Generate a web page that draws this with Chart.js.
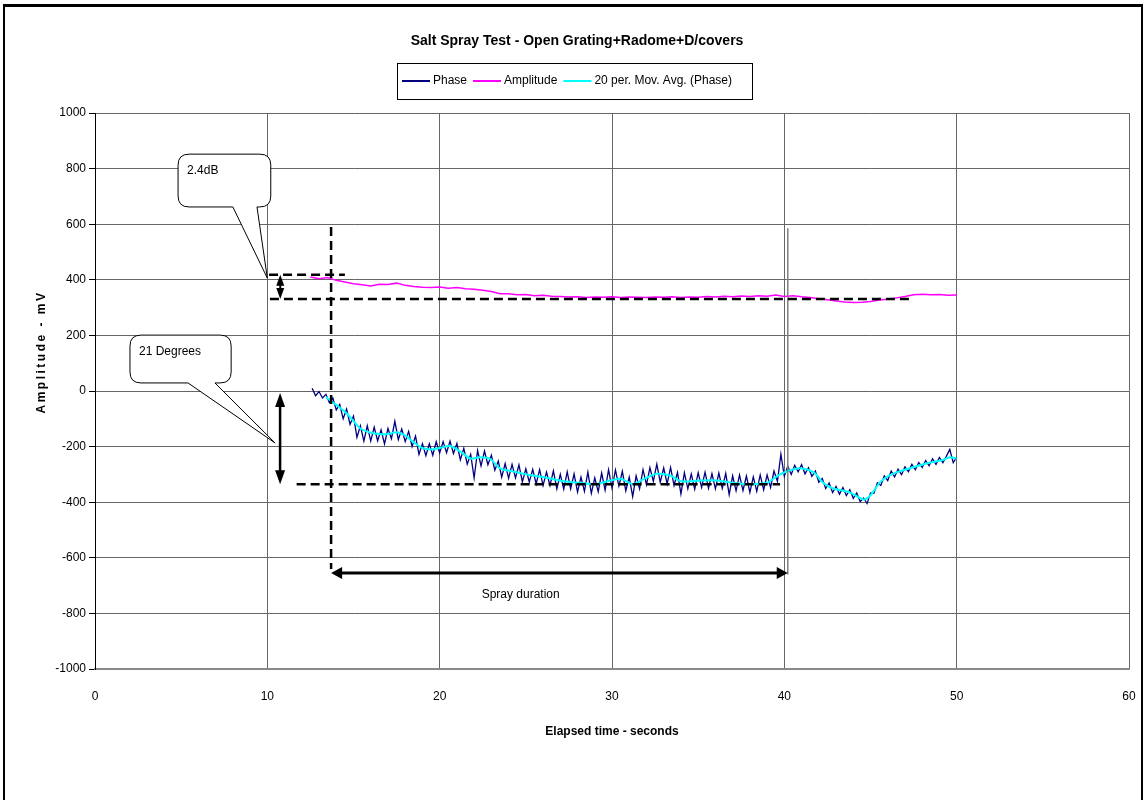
<!DOCTYPE html>
<html>
<head>
<meta charset="utf-8">
<script src="https://cdn.jsdelivr.net/npm/chart.js@4.4.1/dist/chart.umd.min.js"></script>
<style>
  html, body { margin: 0; padding: 0; background: #fff; }
  canvas { display: block; }
</style>
</head>
<body>
<canvas id="chart" width="1145" height="800"></canvas>
<script>
// Salt spray test — phase / amplitude vs elapsed time

/* ─── DATA ─── */
const TITLE = 'Salt Spray Test - Open Grating+Radome+D/covers';
const SERIES_NAMES = ['Phase', 'Amplitude', '20 per. Mov. Avg. (Phase)'];
const X_TITLE = 'Elapsed time - seconds';
const Y_TITLE = 'Amplitude - mV';

// Phase: sampled every 0.2 s from 12.6 s
const PHASE_T0 = 12.6, PHASE_DT = 0.2;
const phaseVals = [
  10, -17, -2, -25, -12, -42, -25, -68, -48, -100,
  -65, -120, -90, -167, -125, -180, -125, -180, -130, -179,
  -140, -190, -135, -172, -109, -175, -137, -182, -145, -200,
  -162, -228, -190, -233, -190, -231, -182, -223, -182, -222,
  -180, -225, -189, -248, -206, -263, -228, -313, -214, -269,
  -216, -265, -231, -285, -252, -310, -261, -314, -264, -313,
  -266, -327, -280, -327, -282, -334, -283, -340, -292, -340,
  -287, -352, -300, -353, -291, -352, -298, -364, -310, -361,
  -292, -368, -312, -362, -295, -357, -283, -349, -284, -342,
  -289, -359, -310, -380, -305, -352, -283, -337, -276, -325,
  -263, -328, -277, -334, -275, -340, -293, -370, -294, -352,
  -298, -353, -294, -347, -292, -350, -297, -352, -295, -350,
  -296, -373, -305, -359, -302, -358, -306, -365, -309, -361,
  -302, -356, -302, -347, -288, -325, -227, -307, -270, -300,
  -267, -291, -265, -298, -276, -307, -288, -328, -315, -351,
  -331, -365, -343, -371, -347, -376, -355, -386, -367, -398,
  -385, -405, -367, -368, -330, -340, -305, -322, -288, -309,
  -281, -301, -273, -290, -264, -283, -257, -275, -250, -269,
  -244, -264, -239, -258, -235, -210, -258, -238
];

// Amplitude: sampled every 0.5 s from 12.5 s
const AMP_T0 = 12.5, AMP_DT = 0.5;
const ampVals = [
  410, 404, 408, 398, 392, 386, 382, 378, 384, 383,
  388, 380, 376, 373, 372, 374, 370, 372, 368, 366,
  362, 358, 350, 350, 346, 347, 343, 344, 341, 340,
  338, 339, 336, 338, 337, 339, 336, 338, 337, 336,
  338, 337, 339, 336, 338, 337, 340, 338, 341, 339,
  342, 340, 343, 341, 345, 340, 343, 339, 336, 332,
  328, 324, 320, 318, 319, 322, 327, 330, 335, 340,
  346, 348, 346, 347, 344, 345
];

// Moving average
const maTimes = [13.4, 14.0, 14.6, 15.0, 15.4, 16.0, 16.5, 17.0, 17.5, 18.0,
  18.5, 19.0, 19.5, 20.0, 20.6, 21.2, 21.8, 22.3, 22.9, 23.5,
  24.3, 25.2, 26.2, 27.2, 28.1, 29.1, 29.9, 30.5, 31.2, 31.8,
  32.6, 33.4, 34.0, 35.1, 36.1, 37.0, 38.0, 39.0, 39.6, 40.2,
  40.9, 41.7, 42.3, 42.8, 43.8, 44.6, 45.0, 45.6, 46.3, 47.3,
  48.3, 49.2, 49.6, 50.0];
const maVals = [-22, -50, -80, -108, -135, -150, -155, -155, -148, -160,
  -185, -205, -210, -205, -198, -218, -243, -238, -243, -278,
  -290, -302, -312, -325, -330, -335, -322, -316, -335, -318,
  -298, -305, -325, -322, -322, -330, -335, -330, -305, -288,
  -278, -293, -333, -350, -365, -390, -375, -325, -298, -278,
  -260, -248, -238, -243];

// Annotations (data units: seconds, mV)
const dashAmpTop   = [[10.1, 418], [14.5, 418]];
const dashAmpBot   = [[10.15, 331], [47.3, 331]];
const dashSprayV   = [[13.7, 590], [13.7, -640]];
const dashPhaseBot = [[11.7, -335], [39.75, -335]];
const sprayEndLine = [[40.2, 585], [40.2, -660]];
const ampArrow     = [10.75, 418, 331];
const phaseArrow   = [10.74, -7, -335];
const sprayArrow   = [-655, 13.7, 40.2];
const sprayLabel   = ['Spray duration', 24.7, -734];
// [text, tMin, tMax, vTop, vBottom, pointer base t1, t2, tip t, tip v]
const callouts = [
  ['2.4dB', 4.82, 10.2, 852, 662, 8.0, 9.4, 10.0, 406],
  ['21 Degrees', 2.03, 7.9, 201, 29, 5.4, 6.96, 10.45, -187]
];

const X_MIN = 0, X_MAX = 60, X_STEP = 10;
const Y_MIN = -1000, Y_MAX = 1000, Y_STEP = 200;

/* ─── BUILD POINTS ─── */
const phasePts = phaseVals.map((v, i) => ({ x: +(PHASE_T0 + i * PHASE_DT).toFixed(2), y: v }));
const ampPts = ampVals.map((v, i) => ({ x: AMP_T0 + i * AMP_DT, y: v }));
const maPts = maTimes.map((t, i) => ({ x: t, y: maVals[i] }));
const seg = p => p.map(([x, y]) => ({ x, y }));

const FONT = "'Liberation Sans', Arial, sans-serif";
const COLORS = ['#000080', '#ff00ff', '#00ffff'];

function dashed(data, color = '#000', width = 2.5, dash = [9, 5]) {
  return { data: seg(data), borderColor: color, borderWidth: width, borderDash: dash,
           pointRadius: 0, fill: false, tension: 0 };
}

/* ─── DECORATION PLUGIN ─── */
function arrowHead(ctx, x, y, dx, dy, len, half) {
  const l = Math.hypot(dx, dy), ux = dx / l, uy = dy / l;
  ctx.beginPath();
  ctx.moveTo(x, y);
  ctx.lineTo(x - ux * len - uy * half, y - uy * len + ux * half);
  ctx.lineTo(x - ux * len + uy * half, y - uy * len - ux * half);
  ctx.closePath();
  ctx.fill();
}
function doubleArrow(ctx, x1, y1, x2, y2, len, half, w) {
  ctx.save();
  ctx.strokeStyle = '#000'; ctx.fillStyle = '#000'; ctx.lineWidth = w;
  const l = Math.hypot(x2 - x1, y2 - y1), ux = (x2 - x1) / l, uy = (y2 - y1) / l;
  ctx.beginPath();
  ctx.moveTo(x1 + ux * len * 0.8, y1 + uy * len * 0.8);
  ctx.lineTo(x2 - ux * len * 0.8, y2 - uy * len * 0.8);
  ctx.stroke();
  arrowHead(ctx, x2, y2, ux, uy, len, half);
  arrowHead(ctx, x1, y1, -ux, -uy, len, half);
  ctx.restore();
}

const decor = {
  id: 'decor',
  beforeDraw(chart) {
    const ctx = chart.ctx;
    ctx.save();
    ctx.fillStyle = '#fff';
    ctx.fillRect(0, 0, chart.width, chart.height);
    ctx.strokeStyle = '#000';
    ctx.lineWidth = 3;
    ctx.beginPath(); ctx.moveTo(3, 5.5); ctx.lineTo(1143, 5.5); ctx.stroke();
    ctx.lineWidth = 2;
    ctx.beginPath(); ctx.moveTo(4, 5); ctx.lineTo(4, 800); ctx.stroke();
    ctx.beginPath(); ctx.moveTo(1142, 5); ctx.lineTo(1142, 800); ctx.stroke();
    ctx.restore();
  },
  afterDatasetsDraw(chart) {
    const ctx = chart.ctx, xs = chart.scales.x, ys = chart.scales.y;
    const X = t => xs.getPixelForValue(t), Y = v => ys.getPixelForValue(v);
    ctx.save();

    // arrows
    doubleArrow(ctx, X(ampArrow[0]), Y(ampArrow[1]), X(ampArrow[0]), Y(ampArrow[2]), 11, 4, 2);
    doubleArrow(ctx, X(phaseArrow[0]), Y(phaseArrow[1]), X(phaseArrow[0]), Y(phaseArrow[2]), 14, 5, 2.5);
    doubleArrow(ctx, X(sprayArrow[1]), Y(sprayArrow[0]), X(sprayArrow[2]), Y(sprayArrow[0]), 11, 6, 3);

    ctx.font = `12px ${FONT}`;
    ctx.fillStyle = '#000';
    ctx.textAlign = 'center'; ctx.textBaseline = 'middle';
    ctx.fillText(sprayLabel[0], X(sprayLabel[1]), Y(sprayLabel[2]));

    // callouts
    callouts.forEach(([text, t0, t1, v0, v1, b1, b2, tt, tv]) => {
      const l = X(t0), r = X(t1), top = Y(v0), bot = Y(v1), rad = 11;
      ctx.beginPath();
      ctx.moveTo(l + rad, top);
      ctx.lineTo(r - rad, top);
      ctx.quadraticCurveTo(r, top, r, top + rad);
      ctx.lineTo(r, bot - rad);
      ctx.quadraticCurveTo(r, bot, r - rad, bot);
      ctx.lineTo(X(b2), bot);
      ctx.lineTo(X(tt), Y(tv));
      ctx.lineTo(X(b1), bot);
      ctx.lineTo(l + rad, bot);
      ctx.quadraticCurveTo(l, bot, l, bot - rad);
      ctx.lineTo(l, top + rad);
      ctx.quadraticCurveTo(l, top, l + rad, top);
      ctx.closePath();
      ctx.fillStyle = '#fff'; ctx.fill();
      ctx.strokeStyle = '#000'; ctx.lineWidth = 1; ctx.stroke();
      ctx.fillStyle = '#000';
      ctx.textAlign = 'left'; ctx.textBaseline = 'middle';
      ctx.fillText(text, l + 9, top + 17);
    });
    ctx.restore();
  },
  afterDraw(chart) {
    const ctx = chart.ctx, area = chart.chartArea;
    ctx.save();
    ctx.fillStyle = '#000';
    // title
    ctx.font = `bold 14px ${FONT}`;
    ctx.textAlign = 'center'; ctx.textBaseline = 'middle';
    ctx.fillText(TITLE, 577, 41);

    // legend
    ctx.strokeStyle = '#000'; ctx.lineWidth = 1;
    ctx.strokeRect(397.5, 63.5, 355, 36);
    ctx.font = `12px ${FONT}`;
    ctx.textAlign = 'left';
    let x = 402;
    SERIES_NAMES.forEach((name, i) => {
      ctx.strokeStyle = COLORS[i]; ctx.lineWidth = 2;
      ctx.beginPath(); ctx.moveTo(x, 81); ctx.lineTo(x + 28, 81); ctx.stroke();
      x += 31;
      ctx.fillStyle = '#000';
      ctx.fillText(name, x, 81);
      x += ctx.measureText(name).width + 6;
    });

    // axis titles
    ctx.font = `bold 12px ${FONT}`;
    ctx.textAlign = 'center';
    ctx.fillText(X_TITLE, (area.left + area.right) / 2, 732);
    ctx.save();
    ctx.translate(42, 352);
    ctx.rotate(-Math.PI / 2);
    ctx.letterSpacing = '2.5px';
    ctx.fillText(Y_TITLE, 0, 0);
    ctx.restore();
    ctx.restore();
  }
};

/* ─── CHART ─── */
new Chart(document.getElementById('chart'), {
  type: 'line',
  data: {
    datasets: [
      dashed(dashAmpTop),
      dashed(dashAmpBot),
      dashed(dashSprayV),
      dashed(dashPhaseBot),
      dashed(sprayEndLine, '#808080', 1.5, []),
      { label: SERIES_NAMES[2], data: maPts, borderColor: COLORS[2], borderWidth: 2,
        pointRadius: 0, tension: 0.3, fill: false },
      { label: SERIES_NAMES[1], data: ampPts, borderColor: COLORS[1], borderWidth: 1.5,
        pointRadius: 0, tension: 0, fill: false },
      { label: SERIES_NAMES[0], data: phasePts, borderColor: COLORS[0], borderWidth: 1.3,
        pointRadius: 0, tension: 0, fill: false }
    ]
  },
  options: {
    responsive: false,
    animation: false,
    layout: { padding: { left: 0, top: 113, right: 16, bottom: 0 } },
    plugins: { legend: { display: false }, title: { display: false }, tooltip: { enabled: false } },
    scales: {
      x: {
        type: 'linear', min: X_MIN, max: X_MAX,
        afterFit: s => { s.height = 131; s.paddingLeft = 0; s.paddingRight = 0; },
        ticks: { stepSize: X_STEP, padding: 20, color: '#000', font: { family: FONT, size: 12 }, maxRotation: 0,
                 callback: v => String(v) },
        grid: { color: '#666', lineWidth: 1, drawTicks: false },
        border: { color: '#888', width: 2 }
      },
      y: {
        min: Y_MIN, max: Y_MAX,
        afterFit: s => { s.width = 95; },
        ticks: { stepSize: Y_STEP, padding: 3, color: '#000', font: { family: FONT, size: 12 },
                 callback: v => String(v) },
        grid: { color: '#666', lineWidth: 1, tickLength: 6, tickColor: '#000' },
        border: { color: '#000', width: 1 }
      }
    }
  },
  plugins: [decor]
});
</script>
</body>
</html>
